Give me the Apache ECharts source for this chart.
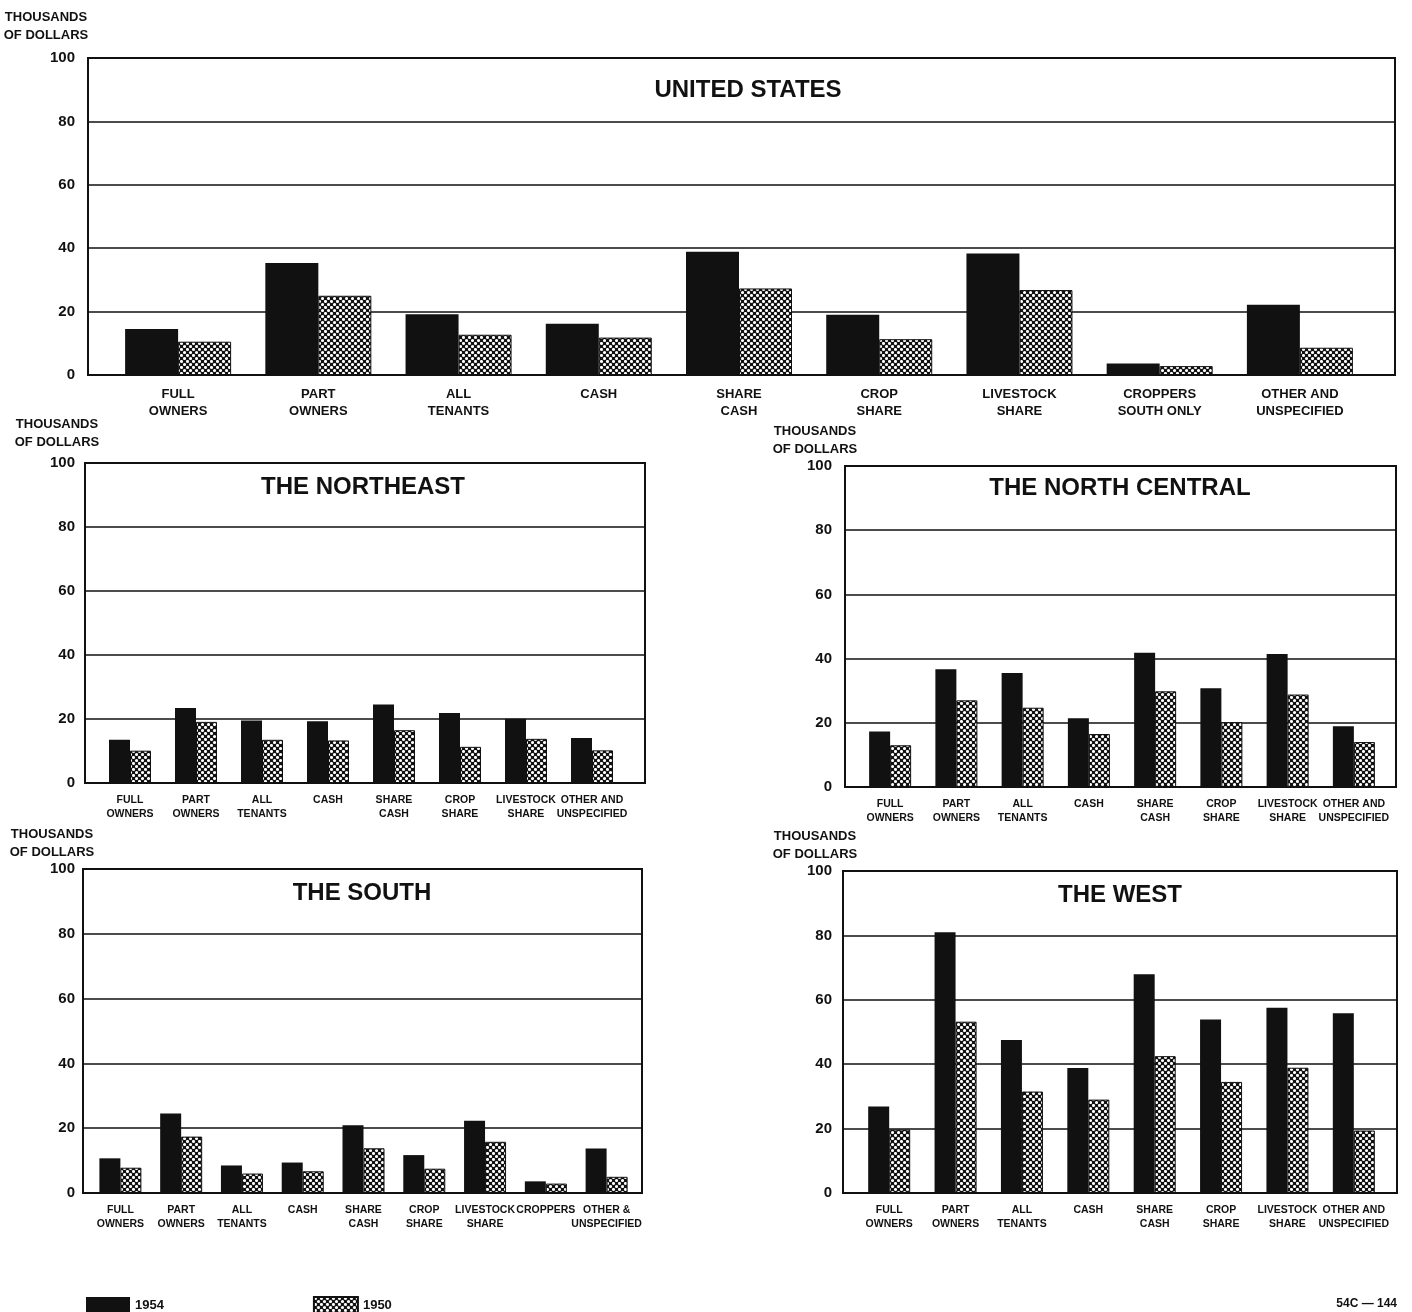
<!DOCTYPE html>
<html><head><meta charset="utf-8">
<script src="https://cdn.jsdelivr.net/npm/echarts@6.0.0/dist/echarts.min.js"></script>
<style>html,body{margin:0;padding:0;background:#fff}#c{width:1412px;height:1312px}</style>
</head><body><div id="c"></div>
<script>
// ---------- DATA (thousands of dollars) ----------
const seriesNames = ['1954', '1950'];
const yTickValues = [0, 20, 40, 60, 80, 100];

const usCategories = ['FULL\nOWNERS','PART\nOWNERS','ALL\nTENANTS','CASH','SHARE\nCASH','CROP\nSHARE','LIVESTOCK\nSHARE','CROPPERS\nSOUTH ONLY','OTHER AND\nUNSPECIFIED'];
const us1954 = [14.5, 35.3, 19.2, 16.2, 38.9, 19.0, 38.3, 3.6, 22.2];
const us1950 = [10.5, 25.0, 12.7, 11.8, 27.3, 11.3, 26.8, 2.8, 8.6];

const regionCategories = ['FULL\nOWNERS','PART\nOWNERS','ALL\nTENANTS','CASH','SHARE\nCASH','CROP\nSHARE','LIVESTOCK\nSHARE','OTHER AND\nUNSPECIFIED'];
const southCategories = ['FULL\nOWNERS','PART\nOWNERS','ALL\nTENANTS','CASH','SHARE\nCASH','CROP\nSHARE','LIVESTOCK\nSHARE','CROPPERS','OTHER &\nUNSPECIFIED'];

const northeast1954 = [13.5, 23.4, 19.5, 19.3, 24.5, 21.9, 20.1, 14.1];
const northeast1950 = [10.1, 19.1, 13.5, 13.3, 16.5, 11.3, 13.8, 10.2];

const northCentral1954 = [17.3, 36.7, 35.5, 21.4, 41.8, 30.8, 41.4, 18.9];
const northCentral1950 = [13.0, 27.0, 24.7, 16.5, 29.8, 20.2, 28.8, 14.0];

const south1954 = [10.7, 24.5, 8.5, 9.4, 20.9, 11.7, 22.3, 3.6, 13.7];
const south1950 = [7.8, 17.4, 6.0, 6.7, 13.8, 7.5, 15.8, 2.9, 5.0];

const west1954 = [26.9, 81.0, 47.5, 38.8, 67.9, 53.9, 57.5, 55.8];
const west1950 = [19.7, 53.2, 31.5, 29.0, 42.5, 34.5, 38.9, 19.4];

// ---------- LAYOUT ----------
const FONT = '"Liberation Sans", Arial, sans-serif';
const INK = '#111';

function makeDots() {
  const c = document.createElement('canvas');
  c.width = 6; c.height = 6;
  const g = c.getContext('2d');
  g.fillStyle = INK; g.fillRect(0, 0, 6, 6);
  g.fillStyle = '#fff';
  [[1.5, 1.5], [4.5, 4.5]].forEach(([x, y]) => { g.beginPath(); g.arc(x, y, 1.55, 0, Math.PI * 2); g.fill(); });
  return c;
}
const dotPattern = { image: makeDots(), repeat: 'repeat' };

const panels = [
  { title: 'UNITED STATES', cats: usCategories, a: us1954, b: us1950,
    frame: [88, 58, 1307, 317], band: [108, 1262], tx: 748, ty: 90, ts: 24,
    ls: 13, lh: 17, bw: 53, nameShift: 84, nameGap: 14, ym: 13, xm: 11 },
  { title: 'THE NORTHEAST', cats: regionCategories, a: northeast1954, b: northeast1950,
    frame: [85, 463, 560, 320], band: [97, 528], tx: 363, ty: 487, ts: 24,
    ls: 10.5, lh: 14, bw: 21, nameShift: 56, nameGap: 12, ym: 10, xm: 10 },
  { title: 'THE NORTH CENTRAL', cats: regionCategories, a: northCentral1954, b: northCentral1950,
    frame: [845, 466, 551, 321], band: [857, 530], tx: 1120, ty: 488, ts: 24,
    ls: 10.5, lh: 14, bw: 21, nameShift: 60, nameGap: 5, ym: 13, xm: 10 },
  { title: 'THE SOUTH', cats: southCategories, a: south1954, b: south1950,
    frame: [83, 869, 559, 324], band: [90, 547], tx: 362, ty: 893, ts: 24,
    ls: 10.5, lh: 14, bw: 21, nameShift: 62, nameGap: 4, ym: 8, xm: 10 },
  { title: 'THE WEST', cats: regionCategories, a: west1954, b: west1950,
    frame: [843, 871, 554, 322], band: [856, 531], tx: 1120, ty: 895, ts: 24,
    ls: 10.5, lh: 14, bw: 21, nameShift: 56, nameGap: 4, ym: 11, xm: 10 }
];

const grid = [], xAxis = [], yAxis = [], series = [], graphic = [];

panels.forEach((p, i) => {
  const [fl, ft, fw, fh] = p.frame;
  grid.push({ left: fl, top: ft, width: fw, height: fh, show: true, borderColor: INK, borderWidth: 2,
              backgroundColor: 'transparent', outerBoundsMode: 'none', containLabel: false });
  grid.push({ left: p.band[0], top: ft, width: p.band[1], height: fh, show: false,
              outerBoundsMode: 'none', containLabel: false });
  const fg = 2 * i, bg = 2 * i + 1;
  xAxis.push({ gridIndex: fg, type: 'value', min: 0, max: 1, show: false });
  xAxis.push({ gridIndex: bg, type: 'category', data: p.cats,
               axisLine: { show: false }, axisTick: { show: false }, splitLine: { show: false },
               axisLabel: { interval: 0, margin: p.xm, color: INK, fontFamily: FONT, fontWeight: 'bold',
                            fontSize: p.ls, lineHeight: p.lh, align: 'center' } });
  yAxis.push({ gridIndex: fg, type: 'value', min: 0, max: 100, interval: 20,
               name: 'THOUSANDS\nOF DOLLARS', nameLocation: 'end', nameGap: p.nameGap,
               nameTextStyle: { color: INK, fontFamily: FONT, fontWeight: 'bold', fontSize: 13, lineHeight: 18,
                                align: 'center', padding: [0, p.nameShift, 0, 0] },
               axisLine: { show: true, lineStyle: { color: INK, width: 2 } },
               axisTick: { show: false },
               splitLine: { show: true, lineStyle: { color: INK, width: 1.5 } },
               axisLabel: { margin: p.ym, color: INK, fontFamily: FONT, fontWeight: 'bold', fontSize: 15,
                            customValues: yTickValues } });
  yAxis.push({ gridIndex: bg, type: 'value', min: 0, max: 100, show: false });

  series.push({ name: seriesNames[0], type: 'bar', xAxisIndex: bg, yAxisIndex: bg, data: p.a,
                barWidth: p.bw, barGap: '0%', itemStyle: { color: INK }, animation: false });
  series.push({ name: seriesNames[1], type: 'bar', xAxisIndex: bg, yAxisIndex: bg, data: p.b,
                barWidth: p.bw, barGap: '0%', itemStyle: { color: dotPattern, borderColor: INK, borderWidth: 1 },
                animation: false });

  graphic.push({ type: 'text', x: p.tx, y: p.ty, z: 10,
                 style: { text: p.title, fill: INK, font: 'bold ' + p.ts + 'px ' + FONT,
                          textAlign: 'center', textVerticalAlign: 'middle', align: 'center', verticalAlign: 'middle' } });
});

graphic.push({ type: 'text', x: 1397, y: 1304,
               style: { text: '54C — 144', fill: INK, font: 'bold 12px ' + FONT,
                        textAlign: 'right', textVerticalAlign: 'middle', align: 'right', verticalAlign: 'middle' } });

const chart = echarts.init(document.getElementById('c'), null, { renderer: 'canvas' });
chart.setOption({
  backgroundColor: '#fff',
  animation: false,
  legend: { data: seriesNames, left: 81, top: 1291, padding: 5, itemWidth: 44, itemHeight: 16, itemGap: 149,
            icon: 'rect', selectedMode: false,
            textStyle: { color: INK, fontFamily: FONT, fontWeight: 'bold', fontSize: 13 } },
  grid, xAxis, yAxis, series, graphic
});
</script>
</body></html>
